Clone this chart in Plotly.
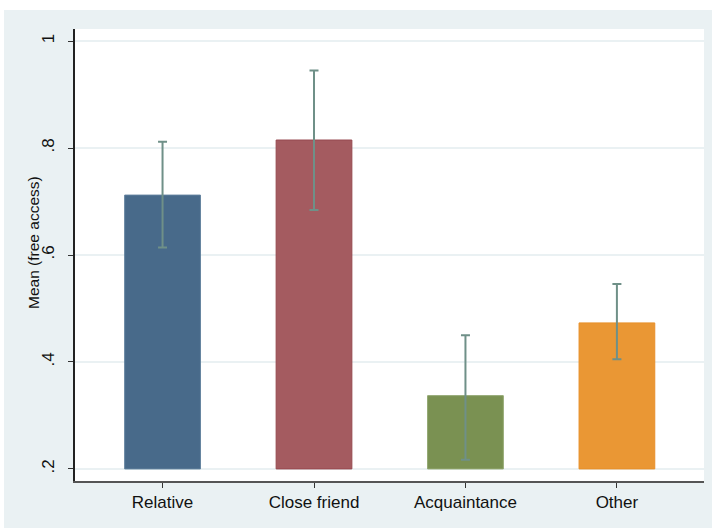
import plotly.graph_objects as go

categories = ["Relative", "Close friend", "Acquaintance", "Other"]
means = [0.712, 0.815, 0.337, 0.473]
ci_upper = [0.812, 0.945, 0.450, 0.546]
ci_lower = [0.614, 0.684, 0.217, 0.405]
bar_colors = ["#486A8A", "#A45B60", "#7A9152", "#EA9734"]
line_colors = ["#5F7F9C", "#96484F", "#91A66F", "#E8902A"]
ytick_vals = [0.2, 0.4, 0.6, 0.8, 1.0]
ytick_text = [".2", ".4", ".6", ".8", "1"]
base_value = 0.2
y_title = "Mean (free access)"

BG = "#EAF1F3"

fig = go.Figure()
fig.add_trace(go.Bar(
    x=list(range(len(categories))),
    y=[m - base_value for m in means],
    base=[base_value] * len(means),
    width=0.5,
    marker=dict(color=bar_colors, line=dict(color=line_colors, width=1)),
    error_y=dict(
        type="data",
        symmetric=False,
        array=[u - m for u, m in zip(ci_upper, means)],
        arrayminus=[m - l for m, l in zip(means, ci_lower)],
        color="#6F9088",
        thickness=2,
        width=4.5,
    ),
    showlegend=False,
))

fig.update_layout(
    width=712, height=528,
    margin=dict(l=75, r=8, t=29, b=47),
    paper_bgcolor="white",
    plot_bgcolor="rgba(0,0,0,0)",
    font=dict(family="Arial, Liberation Sans, sans-serif", color="#111"),
    shapes=[
        dict(type="rect", xref="paper", yref="paper", layer="below",
             x0=(4 - 75) / 629, x1=(712 - 75) / 629,
             y0=(481 - 528) / 452, y1=(481 - 10) / 452,
             fillcolor=BG, line=dict(width=0)),
        dict(type="rect", xref="paper", yref="paper", layer="below",
             x0=0, x1=1, y0=0, y1=1,
             fillcolor="white", line=dict(width=0)),
    ],
    annotations=[
        dict(text=y_title, xref="paper", yref="paper",
             x=(34 - 75) / 629, y=(481 - 243) / 452,
             xanchor="center", yanchor="middle", textangle=-90,
             showarrow=False, font=dict(size=15.5)),
    ],
    xaxis=dict(
        range=[-0.578, 3.575],
        tickmode="array",
        tickvals=list(range(len(categories))),
        ticktext=categories,
        ticks="outside", ticklen=5, tickcolor="#333", tickwidth=1,
        showline=True, linecolor="#555", linewidth=1.5,
        showgrid=False, zeroline=False,
        tickfont=dict(size=17),
    ),
    yaxis=dict(
        range=[0.1774, 1.0226],
        tickmode="array",
        tickvals=ytick_vals,
        ticktext=ytick_text,
        tickangle=-90,
        ticks="outside", ticklen=5, tickcolor="#333", tickwidth=1,
        ticklabelstandoff=7,
        showline=True, linecolor="#222", linewidth=1.5,
        showgrid=True, gridcolor=BG, gridwidth=1.5,
        zeroline=False,
        tickfont=dict(size=17),
    ),
)

fig.write_html("out.html")
